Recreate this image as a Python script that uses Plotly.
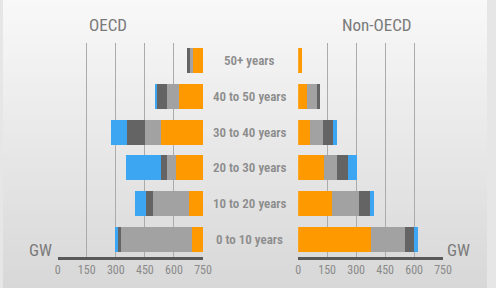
import plotly.graph_objects as go

categories = ["0 to 10 years", "10 to 20 years", "20 to 30 years",
              "30 to 40 years", "40 to 50 years", "50+ years"]

oecd_orange = [55, 75, 138, 218, 126, 52]
oecd_lightgrey = [375, 184, 50, 80, 59, 22]
oecd_darkgrey = [8, 33, 30, 92, 55, 10]
oecd_blue = [17, 57, 180, 84, 8, 0]

non_orange = [377, 176, 134, 59, 47, 20]
non_lightgrey = [176, 139, 67, 67, 50, 0]
non_darkgrey = [47, 59, 59, 55, 17, 0]
non_blue = [20, 20, 42, 20, 0, 0]

tick_values = [0, 150, 300, 450, 600, 750]
tick_labels = ["0", "150", "300", "450", "600", "750"]

colors = ["#FF9900", "#A2A2A2", "#646464", "#3DA6F3"]
FONT = "Liberation Sans Narrow, Roboto Condensed, DejaVu Sans Condensed, Arial"

W, H = 496, 288
fig = go.Figure()

oecd = [oecd_orange, oecd_lightgrey, oecd_darkgrey, oecd_blue]
non = [non_orange, non_lightgrey, non_darkgrey, non_blue]
for vals, c in zip(oecd, colors):
    fig.add_trace(go.Bar(y=categories, x=vals, orientation="h", marker_color=c,
                         marker_line_width=0, xaxis="x", yaxis="y", showlegend=False))
for vals, c in zip(non, colors):
    fig.add_trace(go.Bar(y=categories, x=vals, orientation="h", marker_color=c,
                         marker_line_width=0, xaxis="x2", yaxis="y2", showlegend=False))

# background gradient
shapes = []
n = 48
for i in range(n):
    t = i / (n - 1)
    v = int(round(248 - t * (248 - 216)))
    shapes.append(dict(type="rect", xref="paper", yref="paper",
                       x0=0, x1=1, y0=1 - (i + 1) / n, y1=1 - i / n,
                       fillcolor=f"rgb({v},{v},{v})", line_width=0, layer="below"))

ydom = [1 - 257 / H, 1 - 43 / H]
axis_common = dict(showgrid=True, gridcolor="#ababab", gridwidth=1, zeroline=False,
                   showline=True, linecolor="#585858", linewidth=3, ticks="",
                   tickfont=dict(family=FONT, size=12, color="#8a8a8a"), fixedrange=True)

fig.update_layout(
    width=W, height=H,
    margin=dict(l=0, r=0, t=0, b=0),
    paper_bgcolor="#e6e6e6", plot_bgcolor="rgba(0,0,0,0)",
    barmode="stack", bargap=0.3,
    shapes=shapes,
    xaxis=dict(domain=[56 / W, 205 / W], range=[750, 0],
               tickvals=tick_values[::-1], ticktext=tick_labels, **axis_common),
    xaxis2=dict(domain=[302.5 / W, 451 / W], range=[0, 750],
                tickvals=tick_values, ticktext=tick_labels, **axis_common),
    yaxis=dict(domain=ydom, type="category", categoryorder="array", categoryarray=categories,
               range=[-0.5, 5.5], showticklabels=False, showgrid=False, zeroline=False,
               anchor="x", fixedrange=True),
    yaxis2=dict(domain=ydom, type="category", categoryorder="array", categoryarray=categories,
                range=[-0.5, 5.5], showticklabels=False, showgrid=False, zeroline=False,
                anchor="x2", fixedrange=True),
)

def label(text, x, y, size, color, yref="paper", weight="normal"):
    return dict(text=text, xref="paper", yref=yref, x=x, y=y, showarrow=False,
                xanchor="center", yanchor="middle",
                font=dict(family=FONT, size=size, color=color, weight=weight))

ann = [label(cat, 253 / W, cat, 13, "#8c8c8c", yref="y", weight=600) for cat in categories]
ann.append(label("OECD", 108 / W, 1 - 25 / H, 17, "#7a7a7a"))
ann.append(label("Non-OECD", 383 / W, 1 - 25 / H, 17, "#7a7a7a"))
ann.append(label("GW", 38 / W, 1 - 250 / H, 17, "#7a7a7a"))
ann.append(label("GW", 467 / W, 1 - 250 / H, 17, "#7a7a7a"))
fig.update_layout(annotations=ann)

fig.write_html("out.html", config={"displayModeBar": False},
               post_script="document.body.style.margin='0px';")
